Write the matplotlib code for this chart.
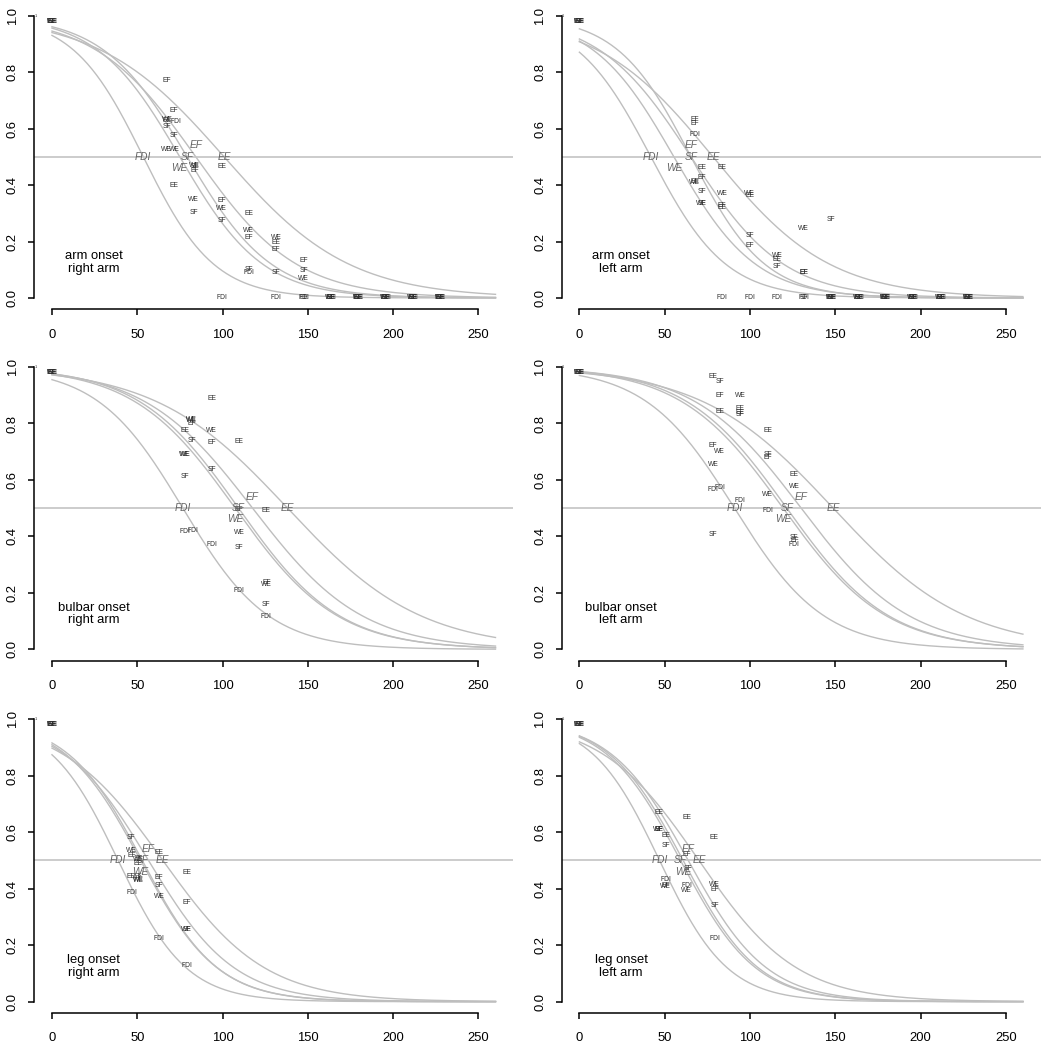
import numpy as np
import matplotlib.pyplot as plt

plt.rcParams['font.family'] = ['Liberation Sans', 'DejaVu Sans']

muscles = ["FDI", "SF", "WE", "EF", "EE"]
label_dy = [0.0, 0.0, -0.04, 0.04, 0.0]   # EF sits above the 0.5 line, WE below

# midpoint (p = 0.5) and scale of the fitted curve, order FDI SF WE EF EE
mid_arm_r = [53.5, 79.2, 74.9, 84.3, 100.9]
scale_arm_r = [20.7, 24.8, 24.4, 29.6, 36.7]
mid_arm_l = [41.9, 65.4, 55.4, 65.4, 78.3]
scale_arm_l = [22.0, 21.7, 24.0, 27.2, 34.3]
mid_bulb_r = [76.7, 109.4, 107.4, 117.6, 138.1]
scale_bulb_r = [25.1, 29.5, 29.9, 32.1, 39.0]
mid_bulb_l = [90.9, 121.6, 119.4, 130.0, 148.8]
scale_bulb_l = [26.2, 29.8, 30.2, 31.6, 38.8]
mid_leg_r = [38.8, 52.9, 52.0, 56.6, 65.0]
scale_leg_r = [20.0, 22.1, 22.5, 25.2, 29.9]
mid_leg_l = [47.0, 59.3, 60.8, 63.8, 70.1]
scale_leg_l = [19.9, 22.1, 22.1, 23.0, 28.7]

# observed proportions (label, time, value)
pts_arm_r = [("EF", 67.1, 0.770), ("EF", 71.4, 0.663),
             ("EE", 67.6, 0.628), ("WE", 67.6, 0.632), ("FDI", 72.4, 0.624),
             ("SF", 67.6, 0.608), ("SF", 71.7, 0.576),
             ("WE", 67.3, 0.525), ("WE", 72.0, 0.525),
             ("WE", 83.6, 0.470), ("SF", 83.6, 0.466), ("EF", 83.6, 0.452),
             ("EE", 99.4, 0.466), ("EE", 71.4, 0.398),
             ("WE", 83.1, 0.350), ("SF", 83.1, 0.304),
             ("EF", 99.4, 0.345), ("WE", 99.4, 0.316), ("SF", 99.4, 0.274),
             ("EE", 115.3, 0.299), ("WE", 115.3, 0.239), ("EF", 115.3, 0.215),
             ("WE", 131.5, 0.215), ("EE", 131.5, 0.197), ("EF", 131.5, 0.172),
             ("EF", 147.5, 0.131), ("SF", 147.5, 0.099), ("WE", 147.5, 0.068),
             ("SF", 115.3, 0.102), ("FDI", 115.3, 0.090), ("SF", 131.5, 0.090),
             ("FDI", 99.4, 0.0), ("FDI", 131.5, 0.0),
             ("EE", 147.5, 0.0), ("FDI", 147.5, 0.0)]
zero_arm_r = [163.5, 179.5, 195.5, 211.5, 227.5]

pts_arm_l = [("EF", 67.9, 0.631), ("EF", 67.9, 0.617), ("FDI", 67.9, 0.580),
             ("EE", 71.8, 0.463), ("EE", 83.6, 0.463), ("EF", 71.8, 0.428),
             ("WE", 67.5, 0.409), ("EE", 67.8, 0.411), ("SF", 71.8, 0.377),
             ("WE", 83.6, 0.371), ("WE", 99.8, 0.371), ("EE", 99.8, 0.362),
             ("WE", 71.8, 0.333), ("SF", 71.8, 0.333),
             ("EF", 83.6, 0.328), ("EE", 83.6, 0.320),
             ("SF", 99.8, 0.221), ("EF", 99.8, 0.186),
             ("WE", 115.8, 0.152), ("EE", 115.8, 0.135), ("SF", 115.8, 0.111),
             ("EF", 131.5, 0.090), ("EE", 131.5, 0.090),
             ("WE", 131.5, 0.247), ("SF", 147.7, 0.279),
             ("FDI", 83.6, 0.0), ("FDI", 99.8, 0.0), ("FDI", 115.8, 0.0),
             ("FDI", 131.5, 0.0), ("SF", 131.5, 0.0)]
zero_arm_l = [147.7, 163.7, 179.4, 195.4, 211.7, 228.0]

pts_bulb_r = [("EE", 93.7, 0.888),
              ("WE", 81.8, 0.815), ("WE", 81.8, 0.810), ("EF", 81.8, 0.800),
              ("EE", 77.9, 0.776), ("WE", 93.7, 0.774), ("SF", 81.8, 0.738),
              ("EF", 93.7, 0.732), ("EE", 109.7, 0.735),
              ("WE", 77.9, 0.690), ("WE", 78.2, 0.690),
              ("SF", 93.7, 0.637), ("SF", 77.9, 0.611),
              ("EF", 109.7, 0.495), ("EE", 125.7, 0.493),
              ("FDI", 77.9, 0.419), ("FDI", 82.4, 0.422), ("FDI", 93.7, 0.371),
              ("WE", 109.7, 0.415), ("SF", 109.7, 0.360),
              ("EF", 125.7, 0.237), ("WE", 125.7, 0.229),
              ("FDI", 109.7, 0.210), ("SF", 125.7, 0.158), ("FDI", 125.7, 0.116)]
zero_bulb_r = []

pts_bulb_l = [("EE", 78.3, 0.965), ("SF", 82.2, 0.947), ("EF", 82.2, 0.900),
              ("WE", 94.3, 0.900), ("EE", 82.2, 0.844),
              ("EE", 94.3, 0.852), ("EE", 94.3, 0.840), ("SF", 94.3, 0.832),
              ("EE", 110.3, 0.774), ("EF", 78.3, 0.721), ("WE", 82.2, 0.702),
              ("SF", 110.3, 0.690), ("EF", 110.3, 0.678), ("WE", 78.3, 0.655),
              ("EE", 126.0, 0.619), ("WE", 126.0, 0.575),
              ("FDI", 78.3, 0.566), ("FDI", 82.6, 0.573),
              ("WE", 110.3, 0.549), ("FDI", 94.3, 0.526), ("FDI", 110.3, 0.491),
              ("SF", 78.3, 0.405),
              ("SF", 126.0, 0.397), ("EF", 126.0, 0.385), ("FDI", 126.0, 0.373)]
zero_bulb_l = []

pts_leg_r = [("SF", 46.6, 0.581), ("WE", 46.6, 0.534), ("EE", 62.8, 0.527),
             ("EF", 46.6, 0.519), ("SF", 50.5, 0.506), ("WE", 50.5, 0.502),
             ("EE", 50.5, 0.489), ("EE", 46.6, 0.442),
             ("EF", 50.5, 0.445), ("WE", 50.5, 0.432), ("WE", 50.8, 0.430),
             ("EF", 62.8, 0.440), ("SF", 62.8, 0.411), ("WE", 62.8, 0.374),
             ("FDI", 46.6, 0.386), ("EE", 78.9, 0.458), ("EF", 78.9, 0.351),
             ("WE", 78.9, 0.256), ("SF", 78.9, 0.256),
             ("FDI", 62.8, 0.225), ("FDI", 78.9, 0.127)]
zero_leg_r = []

pts_leg_l = [("EE", 46.8, 0.669), ("EE", 63.0, 0.652),
             ("WE", 46.4, 0.611), ("EF", 46.4, 0.611), ("SF", 46.6, 0.609),
             ("EE", 50.7, 0.587), ("EE", 79.2, 0.583), ("SF", 50.7, 0.552),
             ("EF", 63.0, 0.520), ("SF", 63.5, 0.470),
             ("FDI", 50.7, 0.433), ("WE", 50.7, 0.409), ("EF", 50.7, 0.411),
             ("FDI", 63.0, 0.413), ("WE", 63.0, 0.393),
             ("WE", 79.2, 0.416), ("EF", 79.2, 0.397), ("SF", 79.2, 0.339),
             ("FDI", 79.2, 0.223)]
zero_leg_l = []

start_t, start_p = 0.0, 0.98   # every muscle at time 0

panels = [("arm onset\nright arm", mid_arm_r, scale_arm_r, pts_arm_r, zero_arm_r),
          ("arm onset\nleft arm", mid_arm_l, scale_arm_l, pts_arm_l, zero_arm_l),
          ("bulbar onset\nright arm", mid_bulb_r, scale_bulb_r, pts_bulb_r, zero_bulb_r),
          ("bulbar onset\nleft arm", mid_bulb_l, scale_bulb_l, pts_bulb_l, zero_bulb_l),
          ("leg onset\nright arm", mid_leg_r, scale_leg_r, pts_leg_r, zero_leg_r),
          ("leg onset\nleft arm", mid_leg_l, scale_leg_l, pts_leg_l, zero_leg_l)]

xticks = [0, 50, 100, 150, 200, 250]
yticks = [0.0, 0.2, 0.4, 0.6, 0.8, 1.0]

fig = plt.figure(figsize=(10.5, 10.47), dpi=100)
lefts = [0.0326, 0.5349]
bottoms = [0.7046, 0.3690, 0.0325]
w, h = 0.4562, 0.2913
small = dict(fontsize=4.9, color='#2e2e2e', ha='center', va='center')

for i, (note, mids, scales, pts, zeros) in enumerate(panels):
    ax = fig.add_axes([lefts[i % 2], bottoms[i // 2], w, h])
    t = np.linspace(0, 260, 400)
    for m, s in zip(mids, scales):
        ax.plot(t, 1 / (1 + np.exp((t - m) / s)), color='#bebebe', lw=1.0)
    ax.axhline(0.5, color='#c4c4c4', lw=1.2)

    for lab, x, y in pts:
        ax.text(x, y, lab, **small)
    for x in zeros:
        for lab in muscles:
            ax.text(x, 0.0, lab, **small)
    for lab in muscles:
        ax.text(start_t, start_p, lab, **small)
    ax.text(-9.5, 1.0, "1", fontsize=3, color='#333333', ha='center', va='center')

    for lab, m, dy in zip(muscles, mids, label_dy):
        ax.text(m, 0.5 + dy, lab, fontsize=7.3, style='italic', color='#646464',
                ha='center', va='center')

    ax.text(24.5, 0.125, note, fontsize=9.4, ha='center', va='center', linespacing=1.05)

    ax.set_xlim(-10.4, 270.4)
    ax.set_ylim(-0.04, 1.04)
    ax.set_xticks(xticks)
    ax.set_xticklabels([str(v) for v in xticks], fontsize=9.4)
    ax.set_yticks(yticks)
    ax.set_yticklabels(["%.1f" % v for v in yticks], fontsize=9.4, rotation=90, va='center')
    for side in ['top', 'right']:
        ax.spines[side].set_visible(False)
    ax.spines['left'].set_bounds(0, 1)
    ax.spines['bottom'].set_bounds(0, 250)
    ax.spines['left'].set_linewidth(1.1)
    ax.spines['bottom'].set_linewidth(1.1)
    ax.tick_params(length=4, width=1.1)
    ax.tick_params(axis='x', pad=10)
    ax.tick_params(axis='y', pad=7)
    ax.patch.set_alpha(0)

fig.savefig('out.png', dpi=100)
